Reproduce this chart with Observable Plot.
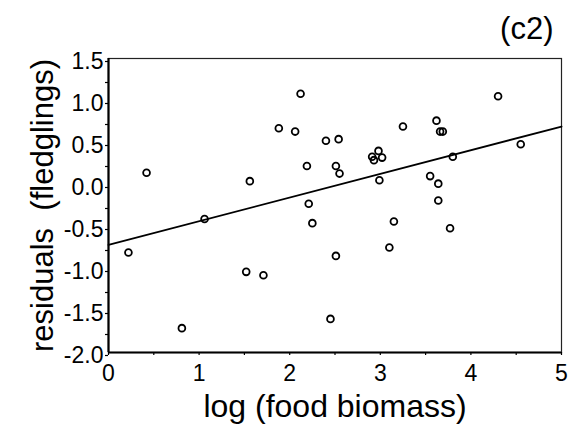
<!DOCTYPE html>
<html>
<head>
<meta charset="utf-8">
<script src="https://cdn.jsdelivr.net/npm/d3@7"></script>
<script src="https://cdn.jsdelivr.net/npm/@observablehq/plot@0.6"></script>
<style>
  html, body { margin: 0; padding: 0; background: #fff; }
  svg { font-family: "Liberation Sans", Arial, Helvetica, sans-serif; }
  g[aria-label="xlabel"] text { letter-spacing: 1.8px; }
  g[aria-label="ylabel"] text { letter-spacing: 2.2px; }
</style>
</head>
<body>
<div id="chart"></div>
<script>
// log (food biomass)
const foodX = [0.22, 0.42, 0.81, 1.06, 1.52, 1.56, 1.71, 1.88, 2.06, 2.12,
  2.19, 2.21, 2.25, 2.40, 2.45, 2.51, 2.51, 2.54, 2.55, 2.91,
  2.93, 2.98, 2.99, 3.02, 3.10, 3.15, 3.25, 3.55, 3.62, 3.64,
  3.64, 3.66, 3.69, 3.77, 3.80, 4.30, 4.55];
// residuals (fledglings)
const residY = [-0.81, 0.14, -1.71, -0.41, -1.04, 0.04, -1.08, 0.67, 0.63, 1.08,
  0.22, -0.23, -0.46, 0.52, -1.60, 0.22, -0.85, 0.54, 0.13, 0.33,
  0.29, 0.40, 0.05, 0.32, -0.75, -0.44, 0.69, 0.10, 0.76, 0.01,
  -0.19, 0.63, 0.63, -0.52, 0.33, 1.05, 0.48];
// fitted regression line
const fitX = [0, 5];
const fitY = [-0.72, 0.69];
// ticks
const yTicks = [-2, -1.75, -1.5, -1.25, -1, -0.75, -0.5, -0.25, 0, 0.25, 0.5, 0.75, 1, 1.25, 1.5];
const xTicks = [0, 0.5, 1, 1.5, 2, 2.5, 3, 3.5, 4, 4.5, 5];
const panelLabel = "(c2)";
const xLabel = "log (food biomass)";
const yLabel = "residuals  (fledglings)";

const points = foodX.map((x, i) => ({x, y: residY[i]}));
const fit = fitX.map((x, i) => ({x, y: fitY[i]}));

const chart = Plot.plot({
  width: 579,
  height: 427,
  marginLeft: 108,
  marginRight: 18,
  marginTop: 58,
  marginBottom: 75,
  style: {fontFamily: '"Liberation Sans", Arial, Helvetica, sans-serif', color: "#000", background: "#fff"},
  x: {domain: [0, 5]},
  y: {domain: [-2, 1.5]},
  marks: [
    Plot.frame({stroke: "#222", strokeWidth: 1.2}),
    Plot.axisY(yTicks, {
      tickSize: 3, tickPadding: 2, fontSize: 23, stroke: "#000", strokeWidth: 1.2,
      tickFormat: d => (Math.abs(d * 2 - Math.round(d * 2)) < 1e-9 ? d.toFixed(1) : ""),
      label: null, dy: 3
    }),
    Plot.axisX(xTicks, {
      tickSize: 3, tickPadding: 9, fontSize: 23, stroke: "#000", strokeWidth: 1.2,
      tickFormat: d => (Number.isInteger(d) ? String(d) : ""),
      label: null
    }),
    Plot.ruleX([0], {stroke: "#000", strokeWidth: 2.2}),
    Plot.ruleY([-2], {stroke: "#000", strokeWidth: 2.2}),
    Plot.line(fit, {x: "x", y: "y", stroke: "#000", strokeWidth: 1.8}),
    Plot.dot(points, {x: "x", y: "y", r: 3.4, stroke: "#000", strokeWidth: 1.8, fill: "none"}),
    Plot.text([xLabel], {frameAnchor: "bottom", dy: 64, lineAnchor: "bottom", textAnchor: "middle", fontSize: 32, fill: "#000", ariaLabel: "xlabel"}),
    Plot.text([yLabel], {frameAnchor: "left", dx: -56, rotate: -90, lineAnchor: "bottom", textAnchor: "middle", fontSize: 31, fill: "#000", ariaLabel: "ylabel"}),
    Plot.text([panelLabel], {frameAnchor: "top-right", dx: -8, dy: -20, lineAnchor: "bottom", textAnchor: "end", fontSize: 31, fill: "#000"})
  ]
});
document.getElementById("chart").appendChild(chart);
</script>
</body>
</html>
